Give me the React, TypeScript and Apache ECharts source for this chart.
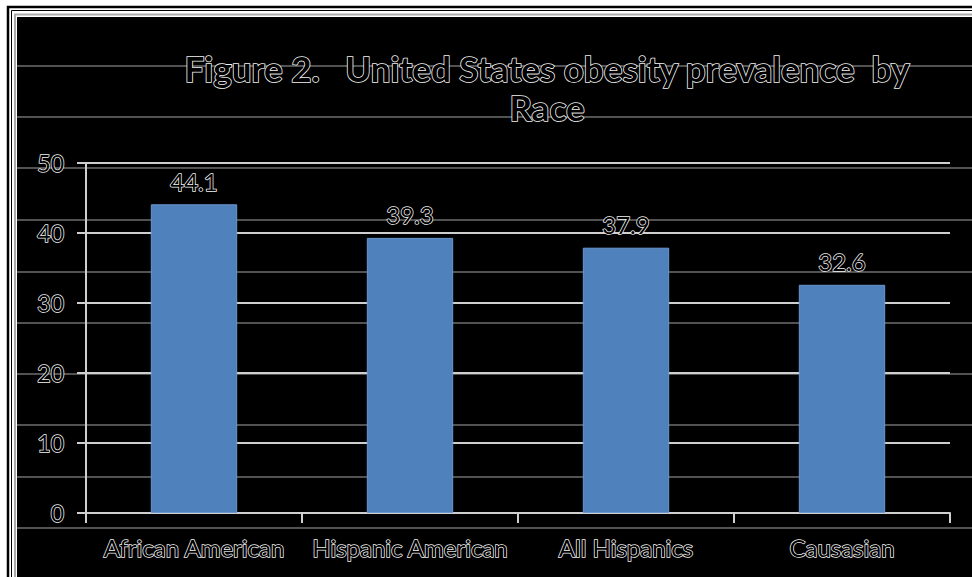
import React, { useEffect, useRef } from "react";
import * as echarts from "echarts";

const categories = ["African American", "Hispanic American", "All Hispanics", "Causasian"];
const values = [44.1, 39.3, 37.9, 32.6];
const yTicks = { min: 0, max: 50, interval: 10 };
const titleText = "Figure 2.   United States obesity prevalence  by\nRace";

// decorative ruled lines behind the chart (page artefact)
const ruleYs = [66, 117, 168, 220, 272, 323, 374, 425, 477, 528];

const FONT = "Lato, 'Open Sans', sans-serif";
const outline = {
  color: "#000000",
  textBorderColor: "#f2f2f2",
  textBorderWidth: 1.5,
  fontFamily: FONT,
};

export default function App() {
  const ref = useRef<HTMLDivElement>(null);
  useEffect(() => {
    if (!ref.current) return;
    const chart = echarts.init(ref.current, null, { renderer: "svg" });
    const graphics: any[] = [
      { type: "rect", z: -20, shape: { x: 0, y: 0, width: 972, height: 577 }, style: { fill: "#fff" } },
      { type: "rect", z: -19, shape: { x: 8, y: 7, width: 990, height: 600 }, style: { fill: "none", stroke: "#000", lineWidth: 2.5 } },
      { type: "rect", z: -19, shape: { x: 11.5, y: 10.5, width: 990, height: 600 }, style: { fill: "none", stroke: "#000", lineWidth: 1 } },
      { type: "rect", z: -19, shape: { x: 15, y: 14.5, width: 990, height: 600 }, style: { fill: "none", stroke: "#aaa", lineWidth: 2 } },
      { type: "rect", z: -18, shape: { x: 17, y: 17, width: 990, height: 600 }, style: { fill: "#000" } },
      ...ruleYs.map((y) => ({
        type: "line",
        z: -17,
        shape: { x1: 17, y1: y, x2: 972, y2: y },
        style: { stroke: "#6e6e6e", lineWidth: 1.6 },
      })),
    ];
    chart.setOption({
      animation: false,
      backgroundColor: "#fff",
      graphic: { elements: graphics },
      title: {
        text: titleText,
        left: 542,
        top: 43,
        textAlign: "center",
        textStyle: {
          ...outline,
          fontSize: 35,
          fontWeight: "bold",
          lineHeight: 39,
          textBorderWidth: 1.6,
        },
      },
      grid: { left: 86, right: 22, top: 163, bottom: 64, containLabel: false },
      xAxis: {
        type: "category",
        data: categories,
        axisLine: { lineStyle: { color: "#cfcfcf", width: 2 } },
        axisTick: { show: true, interval: 0, length: 10, lineStyle: { color: "#cfcfcf", width: 2 } },
        axisLabel: { ...outline, interval: 0, fontSize: 24, margin: 22 },
        splitLine: { show: false },
      },
      yAxis: {
        type: "value",
        min: yTicks.min,
        max: yTicks.max,
        interval: yTicks.interval,
        axisLine: { show: true, lineStyle: { color: "#cfcfcf", width: 2 } },
        axisTick: { show: true, length: 9, lineStyle: { color: "#cfcfcf", width: 2 } },
        axisLabel: { ...outline, fontSize: 23, margin: 22 },
        splitLine: { lineStyle: { color: "#cfcfcf", width: 2 } },
      },
      series: [
        {
          type: "bar",
          data: values,
          barWidth: "40%",
          itemStyle: { color: "#4f81bd", borderColor: "#6b97cf", borderWidth: 1 },
          label: {
            show: true,
            position: "top",
            distance: 11,
            ...outline,
            fontSize: 24,
          },
        },
      ],
    });
    return () => chart.dispose();
  }, []);
  return (
    <div
      ref={ref}
      style={{ position: "fixed", left: 0, top: 0, width: 972, height: 577 }}
    />
  );
}
